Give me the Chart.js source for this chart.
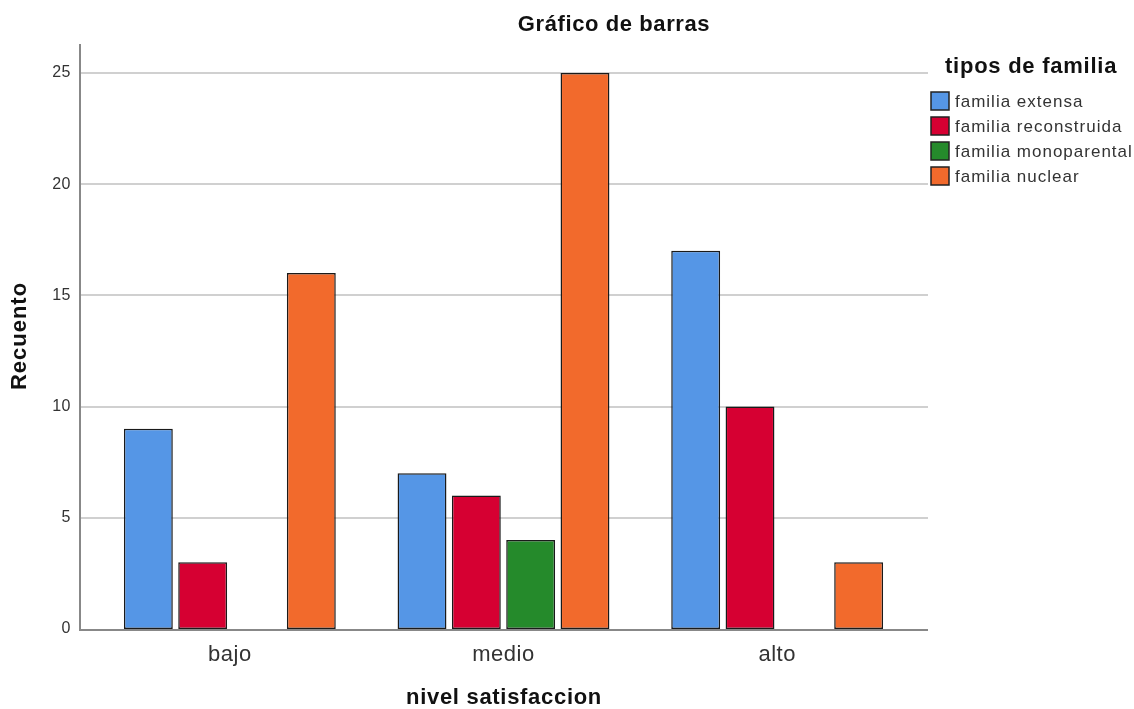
<!DOCTYPE html>
<html>
<head>
<meta charset="utf-8">
<script src="https://cdn.jsdelivr.net/npm/chart.js@4"></script>
<style>
  html, body { margin: 0; padding: 0; background: #fff; }
  #wrap { width: 1134px; height: 709px; }
</style>
</head>
<body>
<div id="wrap"><canvas id="barChart" width="1134" height="709"></canvas></div>
<script>
// data
const niveles = ['bajo', 'medio', 'alto'];
const familiaExtensa = [9, 7, 17];
const familiaReconstruida = [3, 6, 10];
const familiaMonoparental = [null, 4, null]; // 0 en bajo y alto
const familiaNuclear = [16, 25, 3];
const yTicks = [0, 5, 10, 15, 20, 25];

const FONT = '"Liberation Sans", Arial, sans-serif';

function spacedText(ctx, text, x, y, spacing) {
    ctx.letterSpacing = spacing + 'px';
    ctx.fillText(text, x, y);
    ctx.letterSpacing = '0px';
}

// axes, gridlines, titles and legend drawn by hand (SPSS style)
const spssDecor = {
    id: 'spssDecor',
    beforeDraw(chart) {
        // wider letter spacing for the tick labels
        chart.ctx.letterSpacing = '0.5px';
    },
    beforeDatasetsDraw(chart) {
        const ctx = chart.ctx;
        const y = chart.scales.y;
        const left = 80, right = 928;
        ctx.save();
        ctx.strokeStyle = '#d0d0d0';
        ctx.lineWidth = 2;
        yTicks.forEach(t => {
            if (t === 0) return;
            const py = Math.round(y.getPixelForValue(t));
            ctx.beginPath();
            ctx.moveTo(left, py);
            ctx.lineTo(right, py);
            ctx.stroke();
        });
        ctx.restore();
    },
    afterDatasetsDraw(chart) {
        const ctx = chart.ctx;
        const area = chart.chartArea;
        const left = 80, right = 928;
        ctx.save();
        // axis lines
        ctx.strokeStyle = '#888';
        ctx.lineWidth = 2;
        ctx.beginPath();
        ctx.moveTo(left, area.top);
        ctx.lineTo(left, area.bottom + 1);
        ctx.lineTo(right, area.bottom + 1);
        ctx.stroke();

        // titles
        ctx.fillStyle = '#111';
        ctx.textAlign = 'center';
        ctx.textBaseline = 'middle';
        ctx.font = 'bold 22px ' + FONT;
        spacedText(ctx, 'Gráfico de barras', 614, 25, 0.6);
        spacedText(ctx, 'nivel satisfaccion', 504, 698, 0.7);
        ctx.save();
        ctx.translate(20, 336);
        ctx.rotate(-Math.PI / 2);
        spacedText(ctx, 'Recuento', 0, 0, 1);
        ctx.restore();

        // legend
        ctx.textAlign = 'left';
        ctx.font = 'bold 22px ' + FONT;
        spacedText(ctx, 'tipos de familia', 945, 67, 0.75);
        ctx.font = '17px ' + FONT;
        chart.data.datasets.forEach((ds, i) => {
            const cy = 101 + i * 25;
            ctx.fillStyle = ds.backgroundColor;
            ctx.fillRect(931, cy - 9, 18, 18);
            ctx.strokeStyle = '#222';
            ctx.lineWidth = 1.5;
            ctx.strokeRect(931, cy - 9, 18, 18);
            ctx.fillStyle = '#333';
            spacedText(ctx, ds.label, 955, cy + 1, 1);
        });
        ctx.restore();
    }
};

function makeDataset(label, values, color) {
    return {
        label: label,
        data: values,
        backgroundColor: color,
        borderColor: '#1a1a1a',
        borderWidth: 1.5,
        borderSkipped: false,
        categoryPercentage: 0.794,
        barPercentage: 0.9
    };
}

const ctx = document.getElementById('barChart').getContext('2d');
new Chart(ctx, {
    type: 'bar',
    data: {
        labels: niveles,
        datasets: [
            makeDataset('familia extensa', familiaExtensa, '#5596E6'),
            makeDataset('familia reconstruida', familiaReconstruida, '#D60032'),
            makeDataset('familia monoparental', familiaMonoparental, '#258A2B'),
            makeDataset('familia nuclear', familiaNuclear, '#F26A2C')
        ]
    },
    options: {
        responsive: false,
        animation: false,
        layout: { padding: { top: 44, right: 220, left: 0, bottom: 0 } },
        plugins: {
            legend: { display: false },
            title: { display: false },
            tooltip: { enabled: false }
        },
        scales: {
            x: {
                grid: { display: false, drawTicks: false },
                border: { display: false },
                ticks: {
                    color: '#333',
                    font: { family: FONT, size: 22 },
                    padding: 13
                },
                afterFit(scale) { scale.height = 80; }
            },
            y: {
                min: 0,
                max: 26.3,
                grid: { display: false, drawTicks: false },
                border: { display: false },
                afterBuildTicks(scale) {
                    scale.ticks = yTicks.map(v => ({ value: v }));
                },
                ticks: {
                    color: '#333',
                    font: { family: FONT, size: 16 },
                    padding: 22
                },
                afterFit(scale) { scale.width = 93; }
            }
        }
    },
    plugins: [spssDecor]
});
</script>
</body>
</html>
